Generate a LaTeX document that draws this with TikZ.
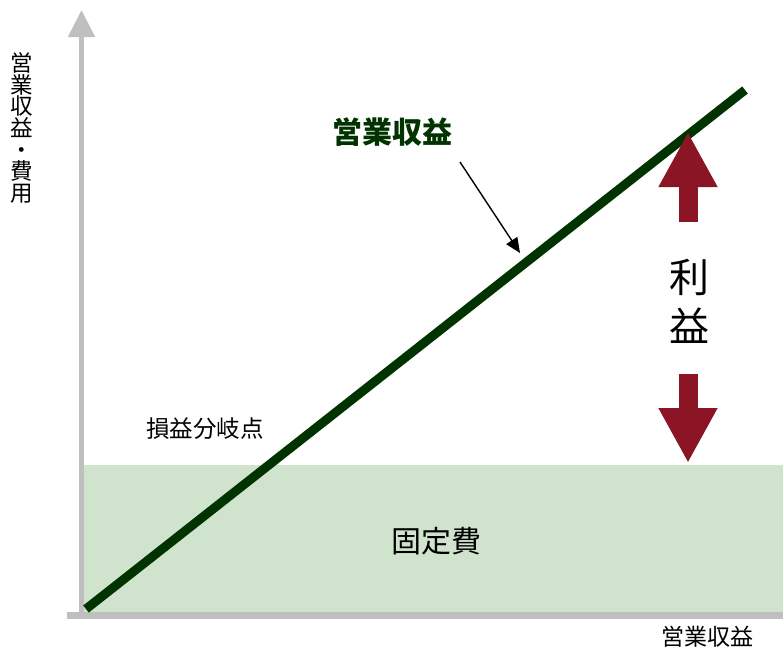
\documentclass[tikz,border=0pt]{standalone}
\usepackage{fontspec}
\setmainfont{Noto Sans CJK JP}
\usepackage{xcolor}
\usepackage{tikz}
\usetikzlibrary{arrows.meta}
\definecolor{axisgray}{HTML}{BFBFBF}
\definecolor{costfill}{HTML}{D0E3CD}
\definecolor{revgreen}{HTML}{003300}
\definecolor{profitred}{HTML}{8B1525}
\tikzset{
  axis/.style={draw=axisgray, line cap=butt},
  revline/.style={draw=revgreen, line width=9pt, line cap=butt},
  profit/.style={draw=profitred, line width=19pt,
    -{Triangle[length=55pt,width=55pt]}},
  callout/.style={draw=black, line width=1.4pt,
    -{Triangle[length=15pt,width=13pt]}},
  lab/.style={text=black, inner sep=0pt},
}

\begin{document}
\begin{tikzpicture}[x=1pt,y=-1pt]
  \useasboundingbox (0,0) rectangle (783,651);
  % fixed cost band
  \fill[costfill] (84,465) rectangle (783,612);

  % axes
  \coordinate (yb) at (81.5,619);
  \coordinate (yt) at (81.5,10);
  \coordinate (xl) at (67,615.5);
  \coordinate (xr) at (783,615.5);
  \draw[axis, line width=5pt, -{Triangle[length=27pt,width=26pt]}] (yb) -- (yt);
  \draw[axis, line width=7pt] (xl) -- (xr);

  % revenue line
  \coordinate (rs) at (86,609);
  \coordinate (re) at (745,90);
  \draw[revline] (rs) -- (re);

  % labels
  \node[lab, font=\fontsize{22.5}{21.7}\selectfont, align=center] (ylab) at (22,128)
    {営\\業\\収\\益\\・\\費\\用};
  \node[lab, font=\fontsize{23}{27}\selectfont] (xlab) at (707,637) {営業収益};
  \node[lab, text=revgreen, font=\fontsize{30}{36}\selectfont\bfseries] (revlab) at (392,132) {営業収益};
  \node[lab, font=\fontsize{23.5}{28}\selectfont] (bep) at (205,429) {損益分岐点};
  \node[lab, font=\fontsize{30}{36}\selectfont] (fixed) at (436,541) {固定費};
  \node[lab, font=\fontsize{40}{49}\selectfont, align=center] (plab) at (689,301) {利\\益};

  % callout
  \coordinate (cs) at (460,162);
  \coordinate (ce) at (520,253);
  \draw[callout] (cs) -- (ce);

  % profit arrows
  \coordinate (pu1) at (688,222);
  \coordinate (pu2) at (688,132);
  \coordinate (pd1) at (688,374);
  \coordinate (pd2) at (688,463);
  \draw[profit] (pu1) -- (pu2);
  \draw[profit] (pd1) -- (pd2);
\end{tikzpicture}
\end{document}
